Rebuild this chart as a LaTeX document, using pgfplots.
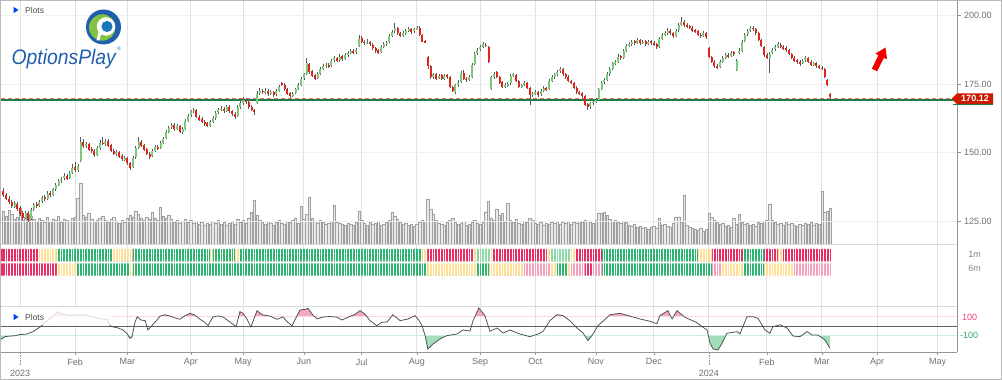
\documentclass[border=0pt]{standalone}
\usepackage{fontspec}
\setmainfont{Liberation Sans}
\usepackage{pgfplots}
\usepackage{pgfplotstable}
\pgfplotsset{compat=1.18}

\definecolor{candleG}{RGB}{122,200,122}
\definecolor{candleR}{RGB}{226,35,26}
\definecolor{wick}{RGB}{90,90,90}
\definecolor{volfill}{RGB}{234,234,234}
\definecolor{voledge}{RGB}{160,160,160}
\definecolor{gridc}{RGB}{226,226,226}
\definecolor{axisc}{RGB}{150,150,150}
\definecolor{labc}{RGB}{112,112,112}
\definecolor{sRed}{RGB}{232,44,100}
\definecolor{sYel}{RGB}{255,224,150}
\definecolor{sGrn}{RGB}{44,180,112}
\definecolor{sLGrn}{RGB}{140,215,170}
\definecolor{sPink}{RGB}{244,160,188}
\definecolor{oscPink}{RGB}{242,170,194}
\definecolor{oscGreen}{RGB}{160,222,188}
\definecolor{lvlPink}{RGB}{250,215,225}
\definecolor{lvlGreen}{RGB}{205,238,222}
\definecolor{supG}{RGB}{30,125,70}
\definecolor{lastR}{RGB}{240,110,90}
\definecolor{tagR}{RGB}{204,26,0}
\definecolor{logoBlue}{RGB}{31,95,173}
\definecolor{logoGreen}{RGB}{130,195,65}

\pgfplotstableread{
i o h l c v
-6 136.0 137.0 133.8 134.5 33
-5 134.5 135.2 132.5 133.0 28
-4 133.2 134.0 131.2 132.0 34
-3 132.0 132.6 129.8 130.5 30
-2 130.2 132.2 129.6 131.5 25
-1 131.2 131.8 128.8 129.5 27
0 129.8 130.5 126.8 127.5 36
1 127.8 128.6 125.2 126.0 24
2 126.2 128.8 125.8 128.0 27
3 128.0 128.5 124.6 125.5 30
4 125.8 129.6 125.2 129.0 28
5 129.2 131.6 128.6 131.0 25
6 131.2 132.0 129.8 130.5 23
7 130.6 132.8 130.2 132.0 26
8 132.2 134.2 131.6 133.5 24
9 133.6 134.5 132.4 133.0 22
10 133.2 135.8 132.8 135.0 27
11 135.2 136.0 133.8 134.5 23
12 134.6 137.2 134.2 136.5 25
13 136.6 138.8 136.0 138.0 24
14 138.2 140.4 137.6 139.5 28
15 139.8 141.2 139.0 140.5 22
16 140.6 142.6 140.0 141.5 25
17 141.6 142.2 139.8 140.5 24
18 140.6 143.4 140.2 142.5 23
19 142.6 145.8 142.0 144.5 26
20 144.6 146.4 143.0 143.5 27
21 143.6 145.8 142.8 145.0 46
22 147.0 155.6 146.6 154.0 61
23 154.0 155.0 151.8 152.5 29
24 152.6 153.8 151.6 153.0 27
25 153.2 153.6 150.4 151.0 31
26 151.2 152.0 149.8 150.5 25
27 150.6 151.2 148.2 149.0 23
28 149.2 152.2 148.8 151.5 24
29 151.6 154.4 151.0 153.5 26
30 153.6 155.6 152.6 153.0 28
31 153.2 155.0 152.4 154.0 24
32 154.2 154.8 152.0 152.5 22
33 152.6 153.2 150.0 150.5 25
34 150.6 151.4 149.0 149.5 27
35 149.6 150.8 148.6 150.0 23
36 150.0 150.6 148.0 148.5 21
37 148.6 149.4 146.8 147.5 24
38 147.6 148.8 146.8 148.0 22
39 148.0 148.4 145.4 146.0 26
40 146.2 146.6 143.6 144.5 29
41 144.6 148.6 144.2 148.0 27
42 148.2 152.2 147.8 151.5 33
43 151.6 155.6 151.2 154.0 30
44 154.0 154.6 152.0 152.5 26
45 152.6 153.2 150.6 151.0 24
46 151.2 151.6 149.0 149.5 27
47 149.6 150.0 147.8 148.5 25
48 148.6 151.2 148.2 150.5 32
49 150.6 152.6 150.0 152.0 26
50 152.0 152.8 150.8 151.5 24
51 151.6 154.2 151.2 153.5 37
52 153.6 155.8 153.0 155.0 28
53 155.2 158.2 154.8 157.5 26
54 157.6 159.8 157.0 159.0 29
55 159.2 160.8 158.6 160.0 25
56 160.0 160.6 158.0 158.5 22
57 158.6 160.4 158.2 159.5 24
58 159.6 160.2 157.0 157.5 21
59 157.6 159.2 156.8 158.5 23
60 158.6 162.2 158.2 161.5 25
61 161.6 164.2 161.0 163.5 22
62 163.6 165.6 163.0 165.0 24
63 165.2 166.4 164.4 165.5 21
64 165.4 165.8 162.6 163.0 23
65 163.0 163.6 161.4 162.0 20
66 162.2 162.8 160.6 161.0 22
67 161.2 161.8 159.8 160.5 19
68 160.6 161.2 159.2 159.8 21
69 159.8 161.8 159.4 161.0 20
70 161.0 163.2 160.6 162.5 23
71 162.6 165.2 162.0 164.5 21
72 164.6 166.2 164.0 165.5 24
73 165.6 166.8 165.0 166.0 20
74 166.0 166.6 164.4 165.0 22
75 165.2 167.4 164.8 166.5 19
76 166.6 167.2 164.4 165.0 21
77 165.0 165.6 163.4 164.0 23
78 164.0 164.6 162.4 163.0 20
79 163.2 167.2 162.8 166.5 25
80 166.6 168.8 166.0 168.0 22
81 168.0 170.2 167.4 169.0 24
82 169.2 169.8 167.8 168.5 21
83 168.6 169.2 166.0 166.5 26
84 166.6 167.2 165.0 165.5 32
85 165.6 166.0 163.6 165.0 44
86 168.0 172.6 167.6 171.5 29
87 171.6 173.4 171.0 172.5 24
88 172.6 173.2 171.4 172.0 22
89 172.0 173.4 171.4 172.5 20
90 172.6 173.0 170.8 171.5 23
91 171.6 172.8 171.0 172.0 21
92 172.0 172.6 170.4 171.0 19
93 171.2 173.2 170.8 172.5 22
94 172.6 174.8 172.0 174.0 24
95 175.4 175.8 174.2 174.8 21
96 174.8 175.2 172.4 173.0 20
97 173.2 173.6 171.0 171.5 23
98 171.6 172.0 170.0 170.5 22
99 170.6 172.2 170.2 171.5 24
100 171.6 173.6 171.2 173.0 26
101 173.2 175.2 172.8 174.5 21
102 174.6 177.6 174.2 177.0 38
103 177.2 179.2 176.6 178.5 25
104 178.6 184.6 178.2 182.5 30
105 182.4 182.8 178.8 179.5 47
106 179.6 180.2 177.4 178.0 26
107 178.2 178.6 176.4 177.0 23
108 177.2 179.2 176.8 178.5 21
109 178.6 181.2 178.2 180.5 24
110 180.6 182.2 180.0 181.5 22
111 181.6 182.8 181.0 182.0 20
112 182.0 182.6 180.8 181.5 21
113 181.6 184.2 181.2 183.5 23
114 183.6 185.2 183.0 184.5 39
115 184.6 185.0 183.0 183.5 22
116 183.6 185.8 183.2 185.0 21
117 185.2 185.6 183.4 184.0 20
118 184.0 186.2 183.6 185.5 19
119 185.6 187.2 185.0 186.5 21
120 186.6 187.8 186.0 187.0 20
121 187.0 187.6 185.8 186.5 19
122 186.6 188.2 186.0 187.5 22
123 188.8 192.8 188.4 191.5 33
124 191.8 192.4 189.8 190.5 24
125 190.4 191.2 189.2 190.0 21
126 190.0 191.4 189.6 190.5 19
127 190.4 190.8 188.8 189.5 22
128 189.4 189.8 187.4 188.0 20
129 188.0 188.6 186.2 187.0 21
130 187.4 187.8 185.8 186.5 23
131 186.6 189.2 186.2 188.5 19
132 188.6 190.2 188.0 189.5 20
133 189.6 190.8 189.0 190.0 22
134 190.2 193.2 189.8 192.5 24
135 192.6 194.6 192.0 194.0 32
136 194.2 197.3 193.6 195.5 28
137 195.4 195.8 193.0 193.5 25
138 193.6 194.0 192.0 192.5 22
139 192.6 194.2 192.2 193.5 20
140 193.6 195.2 193.0 194.5 21
141 194.6 195.8 194.0 195.0 19
142 195.0 195.6 193.4 194.0 20
143 194.2 195.6 193.8 195.0 18
144 195.0 196.2 194.6 195.5 20
145 195.6 196.0 192.6 193.0 22
146 193.0 193.4 190.2 190.5 24
147 190.6 191.2 189.8 190.3 23
148 185.0 185.4 180.6 181.5 45
149 181.4 181.8 177.0 177.5 35
150 177.6 179.2 177.0 178.5 30
151 178.6 179.0 176.6 177.0 24
152 177.2 178.6 176.8 178.0 21
153 178.2 178.6 176.4 177.0 20
154 177.0 178.8 176.6 178.0 19
155 178.2 178.6 177.0 177.5 22
156 177.4 177.8 173.6 174.0 24
157 174.0 174.4 172.0 172.5 26
158 172.0 175.0 171.2 174.5 22
159 174.6 176.4 174.0 175.5 20
160 175.6 179.6 175.2 179.0 21
161 179.2 180.2 176.6 177.0 23
162 177.0 177.6 175.8 176.5 19
163 176.6 178.2 176.2 177.5 20
164 177.6 182.6 177.2 182.0 22
165 182.2 186.6 181.8 186.0 24
166 186.2 188.2 185.6 187.5 21
167 187.6 189.2 187.0 188.5 20
168 188.6 190.2 188.0 189.5 22
169 189.4 189.8 188.4 189.0 32
170 188.4 188.8 182.6 183.0 43
171 173.0 177.8 172.8 177.5 26
172 177.6 179.4 177.0 178.5 24
173 179.2 179.6 177.2 177.5 35
174 177.4 177.8 175.0 175.5 29
175 175.6 176.0 173.6 174.0 31
176 174.0 175.2 173.6 174.5 22
177 174.6 175.8 174.0 175.0 41
178 175.2 178.8 174.8 178.0 24
179 178.0 179.2 177.4 178.5 22
180 178.4 178.8 175.6 176.0 25
181 176.0 176.4 173.6 174.0 21
182 174.0 175.0 173.4 174.5 20
183 174.6 176.2 174.2 175.5 23
184 175.4 175.8 173.0 173.5 22
185 173.4 173.8 167.3 171.0 26
186 171.0 172.2 170.4 171.5 24
187 171.6 172.8 171.0 172.0 21
188 172.0 172.4 170.4 171.0 20
189 171.2 173.2 170.8 172.5 22
190 172.6 174.2 172.0 173.5 19
191 173.6 174.0 172.4 173.0 21
192 173.2 176.8 172.8 176.0 20
193 176.2 178.2 175.6 177.5 22
194 177.6 179.2 177.0 178.5 21
195 178.6 180.2 178.0 179.5 23
196 179.6 181.2 179.0 180.5 20
197 180.4 180.8 178.0 178.5 22
198 178.6 179.2 177.0 177.5 21
199 177.6 178.2 175.6 176.0 23
200 176.0 176.6 175.0 175.5 20
201 175.4 175.8 173.0 173.5 22
202 173.6 174.2 171.4 172.0 21
203 172.0 172.6 171.0 171.5 23
204 171.6 172.2 170.0 170.5 22
205 170.6 171.0 167.0 167.5 24
206 167.6 168.0 165.5 166.5 23
207 166.6 168.6 166.0 168.0 22
208 168.0 169.2 167.4 168.5 21
209 168.6 169.8 168.2 169.0 24
210 169.2 173.6 168.8 173.0 31
211 173.2 176.2 172.8 175.5 31
212 175.6 177.2 175.0 176.5 32
213 176.6 179.2 176.2 178.5 29
214 178.6 181.2 178.0 180.5 25
215 180.6 183.2 180.0 182.5 23
216 182.6 183.8 182.0 183.0 24
217 183.2 185.8 182.8 185.0 22
218 185.2 185.6 183.8 184.5 21
219 184.6 187.6 184.2 187.0 23
220 187.2 189.6 186.8 189.0 22
221 189.0 190.4 188.4 189.5 19
222 189.6 191.2 189.0 190.5 18
223 190.6 191.2 189.4 190.0 20
224 190.0 191.8 189.6 191.0 17
225 191.0 191.4 189.4 190.0 18
226 190.0 191.2 189.6 190.5 16
227 190.6 191.0 189.0 189.5 17
228 189.6 191.2 189.2 190.5 15
229 190.6 191.2 189.4 190.0 17
230 190.0 190.6 188.8 189.5 18
231 189.6 190.0 187.8 188.5 16
232 188.6 192.2 188.2 191.5 26
233 191.6 193.8 191.0 193.0 19
234 193.0 194.2 192.4 193.5 20
235 193.6 195.4 193.0 194.5 18
236 194.4 195.0 193.0 193.5 17
237 193.6 194.0 191.8 192.5 21
238 192.6 195.2 192.2 194.5 27
239 194.6 197.2 194.0 196.5 27
240 196.6 199.6 196.0 197.5 22
241 197.6 198.2 195.8 196.5 49
242 196.6 197.2 195.4 196.0 19
243 196.2 196.6 195.0 195.5 17
244 195.6 196.0 194.0 194.5 16
245 194.6 195.2 193.6 194.0 15
246 194.2 194.6 192.6 193.0 14
247 193.0 193.6 191.8 192.5 16
248 192.6 194.2 192.2 193.5 13
249 193.6 194.0 191.6 192.0 15
250 188.0 188.4 184.4 185.0 31
251 185.0 185.4 182.6 183.0 27
252 183.0 183.6 181.0 181.5 24
253 181.6 182.4 180.4 181.0 22
254 181.2 183.6 180.8 183.0 20
255 183.2 185.2 182.8 184.5 21
256 184.6 186.2 184.0 185.5 18
257 185.6 186.2 184.6 185.0 19
258 185.2 187.2 184.8 186.5 17
259 186.6 187.0 185.4 186.0 26
260 180.2 184.0 179.8 183.5 20
261 186.2 188.0 185.8 187.0 30
262 187.2 191.2 186.8 190.5 22
263 190.6 193.6 190.2 193.0 20
264 193.2 195.2 192.6 194.5 21
265 194.6 196.2 194.0 195.5 19
266 195.6 196.0 194.4 195.0 20
267 195.0 195.4 193.0 193.5 18
268 193.6 194.0 190.6 191.0 22
269 191.0 191.4 188.6 189.0 21
270 188.6 189.0 185.0 185.5 23
271 185.6 186.4 184.0 184.5 24
272 184.4 186.6 179.0 186.0 40
273 186.2 188.2 185.8 187.5 24
274 187.6 189.2 187.0 188.5 22
275 188.6 190.4 188.0 189.5 20
276 189.4 189.8 188.0 188.5 21
277 188.6 189.2 187.4 188.0 19
278 188.0 188.8 186.8 187.5 22
279 187.4 187.8 185.6 186.0 20
280 186.0 186.4 184.0 184.5 21
281 184.6 185.2 183.0 183.5 19
282 183.6 184.2 182.4 183.0 18
283 183.0 183.6 181.4 182.5 20
284 182.6 184.2 182.2 183.5 19
285 183.6 185.2 183.0 184.5 21
286 184.6 185.0 182.6 183.0 20
287 183.0 183.6 181.4 182.0 22
288 182.2 183.0 181.6 182.5 19
289 182.6 183.0 180.8 181.5 21
290 181.6 182.0 180.4 181.0 20
291 181.0 181.6 180.0 180.5 53
292 180.6 181.0 177.2 177.5 32
293 176.6 177.0 174.4 174.6 33
294 171.2 171.6 169.6 170.12 36
}\candles

\pgfplotstableread{
i v
-6.9 -144
-5.4 -115
-3.6 -108
-1.8 -105
0 -92
2.5 -86
4.7 -60
7.3 -10
9 40
11.6 100
13.8 158
15.6 130
18 120
22 125
24 122
27 95
29 80
31.6 75
32.7 5
33.4 -6
35.6 -20
37.4 -42
38.8 -80
39.9 -133
40.6 -120
41.7 40
42.5 103
43.9 67
45.4 60
46.4 -42
48.3 20
49.7 67
50.8 110
52.6 125
54.4 110
56.2 90
58 75
59.9 115
61.7 140
63.5 120
65.3 75
67.1 40
68.2 5
70 100
71.8 111
73.7 100
75.5 60
77.3 20
78.4 -6
79.8 158
80.9 140
82.4 75
83.8 -10
86 169
87.8 125
90.7 110
93.3 75
95.4 100
97.2 40
98.7 5
100.1 90
101.6 176
103.8 185
104.5 195
106.3 120
107.8 78
110 100
112.5 105
115 98
116.8 67
119 97
121.6 130
123.4 169
125.2 130
127 60
129.5 5
131.3 42
133.2 45
135.3 125
137.9 60
140.8 78
143.3 115
144.4 78
145.9 5
147 -104
148 -250
149.9 -195
152.4 -140
154.9 -104
158.6 -86
160.7 -42
163.3 -53
164.4 60
166.5 198
168.7 115
170.5 -56
173.1 -20
175.3 -75
177.8 -42
181.4 -86
185 -115
188 -86
189.8 -56
192.3 60
194.8 125
197 115
199.5 60
202.1 -20
204.3 -75
206.1 -159
207.9 -86
209.7 5
211.2 44
214.1 125
217.7 140
225 78
228.6 53
231.1 26
232.2 115
235.1 169
236.6 78
238.4 169
241.3 97
245.6 38
247.5 -6
249.3 -42
250.4 -188
251.5 -250
253.3 -260
254.7 -188
256.5 -78
260.2 -60
261.2 -86
263.8 103
266 103
267.8 85
270.3 -42
272.1 -78
273.2 -6
275.8 15
278.3 -20
280.5 -108
283 -115
285.6 -60
287.4 -97
289.5 -97
292.1 -151
293.9 -242
}\osc

\pgfplotsset{
  common/.style={scale only axis, width=956pt, xmin=-6.9, xmax=340, anchor=south west},
  strip/.style={common, ymin=0, ymax=1, hide axis},
  nomark/.style={only marks, mark=*, mark size=0.01pt, mark options={draw opacity=0, fill opacity=0}},
}

\begin{document}
\begin{tikzpicture}[x=1pt,y=1pt]
\useasboundingbox (0,0) rectangle (1002,380);
\fill[white] (0,0) rectangle (1002,380);

% background: month grid and date axis
\begin{axis}[common, at={(1pt,28pt)}, height=351pt, ymin=0, ymax=1, ytick=\empty,
  axis line style={draw=none},
  xtick={20,39,62,81,103,124,144,167,187,209,230,271,291,311,333},
  xticklabels={Feb,Mar,Apr,May,Jun,Jul,Aug,Sep,Oct,Nov,Dec,Feb,Mar,Apr,May},
  xmajorgrids, major grid style={gridc, line width=1pt},
  xtick pos=left, tick align=outside, major tick length=3pt,
  tick style={axisc, line width=0.6pt},
  ticklabel style={font=\fontsize{9}{10}\selectfont, text=labc},
  extra x ticks={0,250}, extra x tick labels={2023,2024},
  extra x tick style={grid=major, major tick length=13pt, tick style={axisc, densely dotted, line width=0.6pt},
     xticklabel style={yshift=-1.5pt}},
]
\end{axis}

% volume
\begin{axis}[common, at={(1pt,136pt)}, height=243pt, ymin=0, ymax=243, hide axis]
\addplot[ybar, bar width=0.85, fill=volfill, draw=voledge, line width=0.55pt] table[x=i, y=v] {\candles};
\end{axis}

% price
\begin{axis}[common, at={(1pt,136pt)}, height=243pt, ymin=116.6, ymax=205.3,
  axis line style={draw=none}, xtick=\empty,
  ytick={125,150,175,200}, yticklabels={125.00,150.00,175.00,200.00},
  ytick pos=right, yticklabel pos=right, tick align=outside, major tick length=3.5pt,
  tick style={axisc, line width=0.6pt},
  ymajorgrids, major grid style={gridc!50, line width=0.8pt},
  yticklabel style={font=\fontsize{9}{10}\selectfont, text=labc}]
\draw[supG, line width=2pt] (axis cs:-6.9,169.2) -- (axis cs:340,169.2);
\draw[lastR, line width=1.1pt, dash pattern=on 4pt off 3pt] (axis cs:-6.9,169.85) -- (axis cs:340,169.85);
\addplot[nomark, error bars/.cd, y dir=both, y explicit, error mark=none,
  error bar style={wick, line width=0.7pt}]
  table[x=i, y expr={(\thisrow{h}+\thisrow{l})/2}, y error expr={(\thisrow{h}-\thisrow{l})/2}] {\candles};
\addplot[nomark, restrict expr to domain={\thisrow{c}-\thisrow{o}}{0:1000},
  error bars/.cd, y dir=both, y explicit, error mark=none, error bar style={candleG, line width=2pt}]
  table[x=i, y expr={(\thisrow{o}+\thisrow{c})/2}, y error expr={max(abs(\thisrow{c}-\thisrow{o})/2,0.2)}] {\candles};
\addplot[nomark, restrict expr to domain={\thisrow{c}-\thisrow{o}}{-1000:-0.0001},
  error bars/.cd, y dir=both, y explicit, error mark=none, error bar style={candleR, line width=2pt}]
  table[x=i, y expr={(\thisrow{o}+\thisrow{c})/2}, y error expr={max(abs(\thisrow{c}-\thisrow{o})/2,0.2)}] {\candles};
\end{axis}

% 1m strip
\begin{axis}[strip, at={(1pt,118.5pt)}, height=12.5pt]
\addplot[const plot, fill=sRed, draw=none] coordinates {(-6.9,1)(6.9,0)(147.7,1)(164.4,0)(171.6,1)(191.2,0)(201.4,1)(211.2,0)(251.1,1)(262.3,0)(270,1)(275,0)(276.8,1)(294.5,0)} \closedcycle;
\addplot[const plot, fill=sYel, draw=none] coordinates {(6.9,1)(13.4,0)(33.7,1)(40.3,0)(68.9,1)(70,0)(78,1)(79.8,0)(145.9,1)(147.7,0)(164.4,1)(165.8,0)(170.5,1)(171.6,0)(191.2,1)(192.3,0)(199.6,1)(201.4,0)(246,1)(251.1,0)(275,1)(276.8,0)} \closedcycle;
\addplot[const plot, fill=sPink, draw=none] coordinates {(40.3,1)(41,0)} \closedcycle;
\addplot[const plot, fill=sGrn, draw=none] coordinates {(13.4,1)(33.7,0)(41,1)(68.9,0)(70,1)(78,0)(79.8,1)(145.9,0)(211.2,1)(246,0)(262.3,1)(270,0)} \closedcycle;
\addplot[const plot, fill=sLGrn, draw=none] coordinates {(165.8,1)(170.5,0)(192.3,1)(199.6,0)} \closedcycle;
\addplot[nomark, error bars/.cd, y dir=both, y explicit, error mark=none, error bar style={white, line width=0.6pt}]
  table[x expr={\thisrow{i}+0.5}, y expr={0.5}, y error expr={0.6}] {\candles};
\end{axis}

% 6m strip
\begin{axis}[strip, at={(1pt,104.3pt)}, height=12.4pt]
\addplot[const plot, fill=sRed, draw=none] coordinates {(-6.9,1)(13.4,0)(205,1)(207.5,0)} \closedcycle;
\addplot[const plot, fill=sYel, draw=none] coordinates {(13.4,1)(20.7,0)(39.9,1)(41,0)(147.7,1)(165.8,0)(170.2,1)(182.5,0)(192.3,1)(194.8,0)(198.8,1)(199.6,0)(254.7,1)(262.3,0)(270,1)(280.8,0)} \closedcycle;
\addplot[const plot, fill=sGrn, draw=none] coordinates {(20.7,1)(39.9,0)(41,1)(147.7,0)(165.8,1)(170.2,0)(194.8,1)(198.8,0)(211.2,1)(251.1,0)(262.3,1)(270,0)} \closedcycle;
\addplot[const plot, fill=sPink, draw=none] coordinates {(182.5,1)(192.3,0)(199.6,1)(205,0)(207.5,1)(211.2,0)(251.1,1)(254.7,0)(280.8,1)(294.5,0)} \closedcycle;
\addplot[nomark, error bars/.cd, y dir=both, y explicit, error mark=none, error bar style={white, line width=0.6pt}]
  table[x expr={\thisrow{i}+0.5}, y expr={0.5}, y error expr={0.6}] {\candles};
\end{axis}

% oscillator: pink area above +100 (clipped axis)
\begin{axis}[common, at={(1pt,63pt)}, height=11pt, ymin=100, ymax=220, hide axis]
\addplot[fill=oscPink, draw=none] table[x=i, y=v] {\osc} \closedcycle;
\end{axis}
% oscillator: green area below -100 (clipped axis, values negated, reversed)
\begin{axis}[common, at={(1pt,28pt)}, height=16.7pt, ymin=100, ymax=282.5, y dir=reverse, hide axis]
\addplot[fill=oscGreen, draw=none] table[x=i, y expr={-\thisrow{v}}] {\osc} \closedcycle;
\end{axis}
% oscillator line and levels
\begin{axis}[common, at={(1pt,28pt)}, height=46pt, ymin=-282.5, ymax=220,
  axis line style={draw=none}, xtick=\empty, ytick=\empty]
\draw[lvlPink, line width=1pt] (axis cs:-6.9,100) -- (axis cs:340,100);
\draw[lvlGreen, line width=1pt] (axis cs:-6.9,-100) -- (axis cs:340,-100);
\draw[gray!75!black, line width=0.8pt] (axis cs:-6.9,0) -- (axis cs:340,0);
\addplot[color=black!70, line width=0.75pt] table[x=i, y=v] {\osc};
\end{axis}

% frame lines
\draw[gray!30, line width=0.8pt] (1,136) -- (957,136);
\draw[gray!30, line width=0.8pt] (1,74) -- (957,74);
\draw[axisc, line width=0.8pt] (957,28) -- (957,379);
\draw[axisc, line width=0.8pt] (1,28) -- (957,28);
\draw[gray!55, line width=1pt] (0.5,0.5) rectangle (1001.5,379.5);

% fade behind lower Plots label
\fill[white, opacity=0.8] (1,55) rectangle (112,73);

% labels
\node[anchor=west, font=\fontsize{8.5}{10}\selectfont, text=black!70, inner sep=0] at (25,370) {Plots};
\fill[blue!75!cyan] (13.5,373.2) -- (13.5,366.8) -- (18.5,370) -- cycle;
\node[anchor=west, font=\fontsize{8.5}{10}\selectfont, text=black!70, inner sep=0] at (25,63) {Plots};
\fill[blue!75!cyan] (13.5,66.2) -- (13.5,59.8) -- (18.5,63) -- cycle;
\node[font=\fontsize{9}{10}\selectfont, text=labc!85] at (974.5,126) {1m};
\node[font=\fontsize{9}{10}\selectfont, text=labc!85] at (974.5,111.3) {6m};
\node[anchor=west, inner sep=0, font=\fontsize{9}{10}\selectfont, text={rgb,255:red,232;green,69;blue,122}] at (962,63) {100};
\node[anchor=west, inner sep=0, font=\fontsize{9}{10}\selectfont, text={rgb,255:red,44;green,168;blue,104}] at (960,44.7) {-100};

% last price tag
\fill[tagR] (951.7,281.2) -- (957,286.7) -- (993,286.7) -- (993,275.7) -- (957,275.7) -- cycle;
\draw[supG, line width=1.2pt] (953,275.2) -- (993,275.2);
\node[text=white, font=\fontsize{9}{10}\selectfont\bfseries] at (975,281.2) {170.12};

% red arrow
\fill[red!95!black] (877.2,308.7) -- (883.9,322.2) -- (887.05,320.7) -- (885.5,332.5) -- (875.35,326.3) -- (878.5,324.8) -- (871.8,311.3) -- cycle;

% logo
\fill[logoBlue] (103.5,353) circle (17.5);
\fill[logoGreen] (102.2,352.5) circle (13.2);
\fill[white] (106,353.5) circle (9.2);
\fill[logoBlue!85!cyan] (107,353.5) circle (5.6);
\fill[white] (96.5,339.5) -- (99.5,339.5) -- (102.5,351) -- (99.2,351) -- cycle;
\node[anchor=base west, inner sep=0, xscale=0.92, text=logoBlue, font=\fontsize{21}{21}\selectfont\itshape] at (11.5,315.5) {OptionsPlay};
\node[inner sep=0, text=logoBlue, font=\fontsize{5}{5}\selectfont] at (119,331) {®};
\end{tikzpicture}
\end{document}
